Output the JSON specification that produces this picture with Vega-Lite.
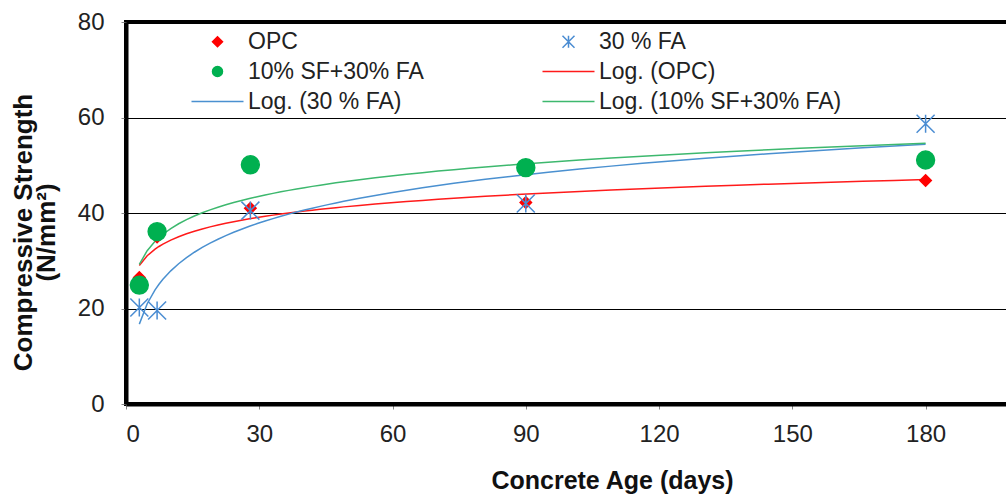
{
  "$schema": "https://vega.github.io/schema/vega-lite/v6.json",
  "width": 884,
  "height": 382,
  "autosize": {"type": "none"},
  "padding": {"left": 126, "top": 22, "right": 0, "bottom": 93},
  "background": "white",
  "config": {
    "font": "Liberation Sans",
    "view": {"stroke": "black", "strokeWidth": 4},
    "legend": {
      "orient": "none",
      "legendX": 80,
      "legendY": 8,
      "columns": 2,
      "columnPadding": 115,
      "rowPadding": 6,
      "labelFontSize": 23,
      "labelFont": "Liberation Sans",
      "labelColor": "#222222",
      "labelOffset": 19,
      "symbolStrokeWidth": 1.5,
      "symbolSize": 100,
      "labelLimit": 500
    }
  },
  "data": {
    "values": [
      {"series": "OPC", "trend": "Log. (OPC)", "age": 3, "strength": 26.5},
      {"series": "OPC", "trend": "Log. (OPC)", "age": 7, "strength": 35},
      {"series": "OPC", "trend": "Log. (OPC)", "age": 28, "strength": 41},
      {"series": "OPC", "trend": "Log. (OPC)", "age": 90, "strength": 42.2},
      {"series": "OPC", "trend": "Log. (OPC)", "age": 180, "strength": 46.8},
      {"series": "30 % FA", "trend": "Log. (30 % FA)", "age": 3, "strength": 20.2},
      {"series": "30 % FA", "trend": "Log. (30 % FA)", "age": 7, "strength": 19.6},
      {"series": "30 % FA", "trend": "Log. (30 % FA)", "age": 28, "strength": 40.5},
      {"series": "30 % FA", "trend": "Log. (30 % FA)", "age": 90, "strength": 42},
      {"series": "30 % FA", "trend": "Log. (30 % FA)", "age": 180, "strength": 58.7},
      {"series": "10% SF+30% FA", "trend": "Log. (10% SF+30% FA)", "age": 3, "strength": 24.9},
      {"series": "10% SF+30% FA", "trend": "Log. (10% SF+30% FA)", "age": 7, "strength": 36.1},
      {"series": "10% SF+30% FA", "trend": "Log. (10% SF+30% FA)", "age": 28, "strength": 50.1},
      {"series": "10% SF+30% FA", "trend": "Log. (10% SF+30% FA)", "age": 90, "strength": 49.5},
      {"series": "10% SF+30% FA", "trend": "Log. (10% SF+30% FA)", "age": 180, "strength": 51.1}
    ]
  },
  "encoding": {
    "x": {
      "field": "age",
      "type": "quantitative",
      "scale": {"domain": [0, 199], "nice": false},
      "axis": {
        "values": [0, 30, 60, 90, 120, 150, 180],
        "title": "Concrete Age (days)",
        "titleX": 486,
        "grid": false,
        "domainColor": "black",
        "domainWidth": 4,
        "tickColor": "#888888",
        "tickSize": 5,
        "tickWidth": 1,
        "labelFontSize": 24,
        "labelColor": "#222222",
        "labelPadding": 13,
        "titleFontSize": 25,
        "titleFontWeight": "bold",
        "titleColor": "#111111",
        "titlePadding": 22
      }
    },
    "y": {
      "field": "strength",
      "type": "quantitative",
      "scale": {"domain": [0, 80], "nice": false},
      "axis": {
        "values": [0, 20, 40, 60, 80],
        "title": ["Compressive Strength", "(N/mm²)"],
        "titleY": 210,
        "grid": true,
        "gridColor": "black",
        "gridWidth": 1,
        "gridOpacity": 1,
        "domainColor": "black",
        "domainWidth": 4,
        "tickColor": "#888888",
        "tickSize": 5,
        "tickWidth": 1,
        "labelFontSize": 24,
        "labelColor": "#222222",
        "labelPadding": 17,
        "titleFontSize": 26,
        "titleLineHeight": 23,
        "titleFontWeight": "bold",
        "titleColor": "#111111",
        "titlePadding": 18
      }
    }
  },
  "layer": [
    {
      "transform": [
        {"regression": "strength", "on": "age", "groupby": ["trend"], "method": "log", "extent": [3, 180]}
      ],
      "mark": {"type": "line", "strokeWidth": 1.5},
      "encoding": {
        "color": {
          "field": "trend",
          "type": "nominal",
          "scale": {
            "domain": ["Log. (OPC)", "Log. (30 % FA)", "Log. (10% SF+30% FA)"],
            "range": ["#FF1A1A", "#4A90D0", "#3DB86E"]
          },
          "legend": null
        }
      }
    },
    {
      "mark": {"type": "point", "opacity": 1, "strokeWidth": 1.5},
      "encoding": {
        "fill": {
          "field": "series",
          "type": "nominal",
          "title": null,
          "scale": {
            "domain": ["OPC", "10% SF+30% FA", "Log. (30 % FA)", "30 % FA", "Log. (OPC)", "Log. (10% SF+30% FA)"],
            "range": ["#FF0000", "#00B050", "transparent", "transparent", "transparent", "transparent"]
          }
        },
        "stroke": {
          "field": "series",
          "type": "nominal",
          "title": null,
          "scale": {
            "domain": ["OPC", "10% SF+30% FA", "Log. (30 % FA)", "30 % FA", "Log. (OPC)", "Log. (10% SF+30% FA)"],
            "range": ["#FF0000", "#00B050", "#4A90D0", "#4A8CD2", "#FF1A1A", "#3DB86E"]
          }
        },
        "shape": {
          "field": "series",
          "type": "nominal",
          "title": null,
          "scale": {
            "domain": ["OPC", "10% SF+30% FA", "Log. (30 % FA)", "30 % FA", "Log. (OPC)", "Log. (10% SF+30% FA)"],
            "range": ["diamond", "circle", "M-5.2,0H5.2", "M-1.2,-1.2L1.2,1.2M-1.2,1.2L1.2,-1.2M0,-1.2L0,1.2", "M-5.2,0H5.2", "M-5.2,0H5.2"]
          }
        },
        "size": {
          "field": "series",
          "type": "nominal",
          "scale": {
            "domain": ["OPC", "30 % FA", "10% SF+30% FA"],
            "range": [130, 320, 340]
          },
          "legend": null
        }
      }
    }
  ]
}
